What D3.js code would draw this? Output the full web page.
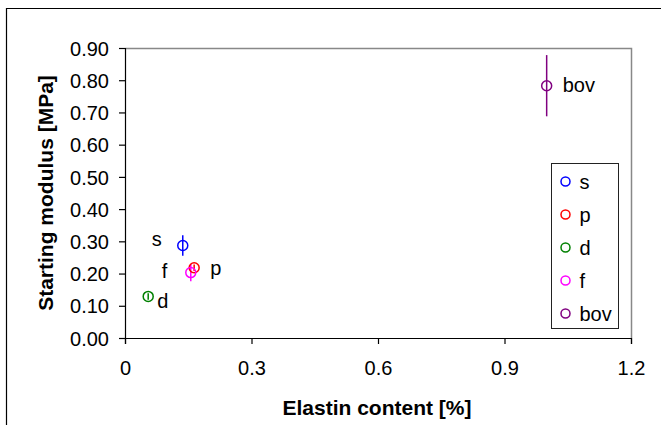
<!DOCTYPE html>
<html>
<head>
<meta charset="utf-8">
<script src="https://cdn.jsdelivr.net/npm/d3@7"></script>
<style>
  body { margin: 0; background: #fff; }
  text { font-family: "Liberation Sans", Arial, sans-serif; }
</style>
</head>
<body>
<script>
// Samples: elastin content vs starting modulus (mean +/- sd)
var names = ["s", "p", "d", "f", "bov"];
var elastin = [0.137, 0.164, 0.055, 0.156, 1.0];
var modulus = [0.287, 0.218, 0.129, 0.203, 0.783];
var modulusErr = [0.032, 0.010, 0.010, 0.027, 0.095];
var colors = ["#0000ff", "#ff0000", "#008000", "#ff00ff", "#800080"];
var xTicks = [0, 0.3, 0.6, 0.9, 1.2];
var yTicks = [0, 0.1, 0.2, 0.3, 0.4, 0.5, 0.6, 0.7, 0.8, 0.9];

var W = 661, H = 425;
var margin = {top: 48, right: 30, bottom: 87, left: 125},
    width = W - margin.left - margin.right,
    height = H - margin.top - margin.bottom;

var svg = d3.select("body").append("svg")
    .attr("width", W)
    .attr("height", H);

// outer frame
svg.append("path")
    .attr("d", "M6.5," + H + "V8.5H" + W)
    .attr("fill", "none")
    .attr("stroke", "#000")
    .attr("stroke-width", 1.2);

var g = svg.append("g")
    .attr("transform", "translate(" + margin.left + "," + margin.top + ")");

var x = d3.scaleLinear().domain([0, 1.2]).range([0, width]);
var y = d3.scaleLinear().domain([0, 0.9]).range([height, 0]);

// grey plot border on top and right
g.append("path")
    .attr("d", "M0,0.5H" + (width + 0.5) + "V" + height)
    .attr("fill", "none")
    .attr("stroke", "#888")
    .attr("stroke-width", 1.5);

var xAxis = g.append("g")
    .attr("transform", "translate(0," + height + ")")
    .call(d3.axisBottom(x).tickValues(xTicks).tickSize(6).tickPadding(17)
        .tickFormat(function(d) { return d === 0 ? "0" : d3.format(".1f")(d); }));

var yAxis = g.append("g")
    .call(d3.axisLeft(y).tickValues(yTicks).tickSize(6).tickPadding(10)
        .tickFormat(d3.format(".2f")));

[xAxis, yAxis].forEach(function(a) {
    a.select(".domain").attr("stroke", "#000").attr("stroke-width", 1.2);
    a.selectAll(".tick line").attr("stroke", "#000").attr("stroke-width", 1.2);
    a.selectAll(".tick text")
        .attr("fill", "#000")
        .style("font-family", "'Liberation Sans', Arial, sans-serif")
        .style("font-size", "20px");
});
yAxis.selectAll(".tick text").attr("dy", "0.36em");

// axis titles
svg.append("text")
    .attr("x", 377)
    .attr("y", 415)
    .attr("text-anchor", "middle")
    .style("font-size", "21px")
    .style("font-weight", "bold")
    .text("Elastin content [%]");

svg.append("text")
    .attr("transform", "translate(53," + 193 + ") rotate(-90)")
    .attr("text-anchor", "middle")
    .style("font-size", "21px")
    .style("font-weight", "bold")
    .text("Starting modulus [MPa]");

var data = names.map(function(n, i) {
    return {name: n, x: elastin[i], y: modulus[i], e: modulusErr[i], c: colors[i]};
});

// error bars
g.selectAll(".err")
    .data(data)
    .enter().append("line")
    .attr("class", "err")
    .attr("x1", function(d) { return x(d.x); })
    .attr("x2", function(d) { return x(d.x); })
    .attr("y1", function(d) { return y(d.y + d.e); })
    .attr("y2", function(d) { return y(d.y - d.e); })
    .attr("stroke", function(d) { return d.c; })
    .attr("stroke-width", 1.5);

// markers
g.selectAll(".pt")
    .data(data)
    .enter().append("circle")
    .attr("class", "pt")
    .attr("cx", function(d) { return x(d.x); })
    .attr("cy", function(d) { return y(d.y); })
    .attr("r", 5)
    .attr("fill", "none")
    .attr("stroke", function(d) { return d.c; })
    .attr("stroke-width", 1.5);

// point labels, offsets to the text baseline
var labelOffset = {s: [-31, 0], p: [16, 7], d: [9, 12], f: [-29, 5], bov: [16, 6]};
g.selectAll(".lbl")
    .data(data)
    .enter().append("text")
    .attr("class", "lbl")
    .attr("x", function(d) { return x(d.x) + labelOffset[d.name][0]; })
    .attr("y", function(d) { return y(d.y) + labelOffset[d.name][1]; })
    .style("font-size", "20px")
    .text(function(d) { return d.name; });

// legend
var legend = svg.append("g").attr("transform", "translate(551.5,163.5)");
legend.append("rect")
    .attr("width", 67)
    .attr("height", 165)
    .attr("fill", "#fff")
    .attr("stroke", "#222")
    .attr("stroke-width", 1);

var item = legend.selectAll(".item")
    .data(data)
    .enter().append("g")
    .attr("class", "item")
    .attr("transform", function(d, i) { return "translate(0," + (18 + i * 33) + ")"; });

item.append("circle")
    .attr("cx", 14)
    .attr("r", 4.5)
    .attr("fill", "none")
    .attr("stroke", function(d) { return d.c; })
    .attr("stroke-width", 1.5);

item.append("text")
    .attr("x", 28)
    .attr("y", 7)
    .style("font-size", "20px")
    .text(function(d) { return d.name; });
</script>
</body>
</html>
